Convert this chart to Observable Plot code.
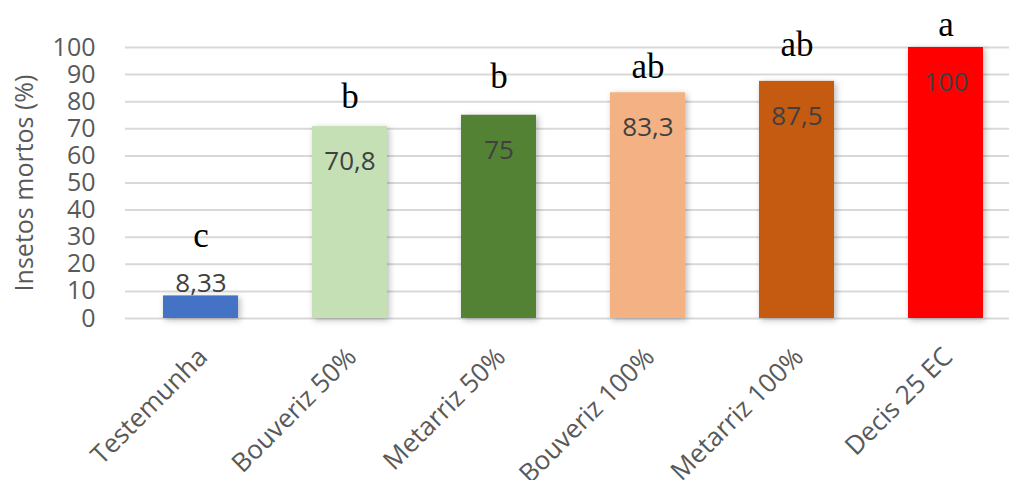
<!DOCTYPE html>
<html>
<head>
<meta charset="utf-8">
<script src="https://cdn.jsdelivr.net/npm/d3@7"></script>
<script src="https://cdn.jsdelivr.net/npm/@observablehq/plot@0.6"></script>
<style>
  html, body { margin: 0; padding: 0; background: #fff; }
</style>
</head>
<body>
<div id="chart"></div>
<script>
// Data
const categories = ["Testemunha", "Bouveriz 50%", "Metarriz 50%", "Bouveriz 100%", "Metarriz 100%", "Decis 25 EC"];
const values = [8.33, 70.8, 75, 83.3, 87.5, 100];
const valueLabels = ["8,33", "70,8", "75", "83,3", "87,5", "100"];
const colors = ["#4472C4", "#C5E0B4", "#548235", "#F4B183", "#C55A11", "#FF0000"];
const letters = ["c", "b", "b", "ab", "ab", "a"];
const letterHeights = [26.2, 77.5, 85.2, 88.6, 97.0, 104.4];
const yTicks = [0, 10, 20, 30, 40, 50, 60, 70, 80, 90, 100];
const yTitle = "Insetos mortos (%)";

const rows = categories.map((c, i) => ({
  cat: c, value: values[i], label: valueLabels[i], color: colors[i],
  letter: letters[i], letterY: letterHeights[i]
}));

const plot = Plot.plot({
  width: 1009,
  height: 480,
  marginLeft: 125,
  marginRight: 0,
  marginTop: 47,
  marginBottom: 162,
  style: { fontFamily: "'Open Sans', sans-serif", color: "#595959", background: "#fff" },
  x: { domain: categories, range: [124, 1022], paddingInner: 0.5, paddingOuter: 0.25, axis: null },
  y: { domain: [0, 100], axis: null },
  marks: [
    Plot.ruleY(yTicks, { stroke: "#d9d9d9", strokeWidth: 2 }),
    Plot.axisY({ ticks: yTicks, tickSize: 0, tickPadding: 30, fontSize: 25, label: null, tickFormat: d => String(d) }),
    Plot.text([yTitle], { frameAnchor: "left", textAnchor: "middle", rotate: -90, dx: -93, lineAnchor: "bottom", fontSize: 25, fill: "#595959" }),
    Plot.barY(rows, { x: "cat", y: "value", fill: "color" }),
    Plot.text(rows.filter(d => d.value >= 20), { x: "cat", y: "value", text: "label", dy: 35, lineAnchor: "middle", fontSize: 26, fill: "#404040" }),
    Plot.text(rows.filter(d => d.value < 20), { x: "cat", y: "value", text: "label", dy: -12, lineAnchor: "middle", fontSize: 26, fill: "#404040" }),
    Plot.text(rows, { x: "cat", y: "letterY", text: "letter", lineAnchor: "bottom", fontSize: 35, fontFamily: "'Liberation Serif', serif", fill: "#000" }),
    Plot.text(rows, { x: "cat", text: "cat", frameAnchor: "bottom", rotate: -45, textAnchor: "end", lineAnchor: "bottom", dx: 8, dy: 40, fontSize: 26, fill: "#595959" })
  ]
});

const barG = plot.querySelector('g[aria-label="bar"]');
if (barG) barG.style.filter = "drop-shadow(2px 2px 3px rgba(0,0,0,0.28))";
document.getElementById("chart").appendChild(plot);
</script>
</body>
</html>
